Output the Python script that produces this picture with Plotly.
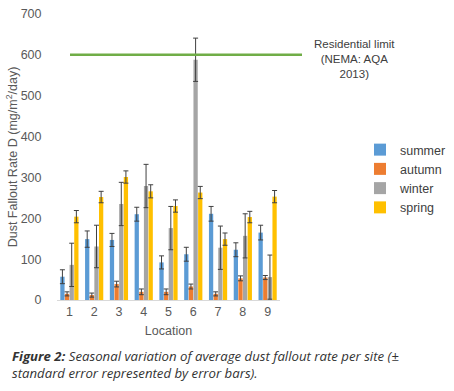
import plotly.graph_objects as go

locations = ["1", "2", "3", "4", "5", "6", "7", "8", "9"]
summer = [57, 149, 147, 210, 92, 112, 211, 123, 165]
summer_err = [17, 20, 16, 17, 16, 17, 18, 17, 18]
autumn = [15, 12, 39, 20, 20, 33, 15, 53, 55]
autumn_err = [5, 5, 7, 7, 7, 6, 5, 6, 5]
winter = [86, 131, 235, 279, 176, 588, 128, 157, 56]
winter_err = [53, 52, 53, 53, 53, 53, 53, 54, 54]
spring = [204, 252, 301, 266, 230, 263, 149, 203, 253]
spring_err = [15, 14, 15, 16, 15, 15, 15, 14, 15]
residential_limit = 600

series = [
    ("summer", summer, summer_err, "#5B9BD5"),
    ("autumn", autumn, autumn_err, "#ED7D31"),
    ("winter", winter, winter_err, "#A5A5A5"),
    ("spring", spring, spring_err, "#FFC000"),
]

W, H = 454, 391
FONT = "Liberation Sans"

fig = go.Figure()
for name, vals, errs, color in series:
    fig.add_trace(go.Bar(
        x=locations, y=vals, name=name, marker_color=color,
        marker_line_width=0,
        error_y=dict(type="data", array=errs, visible=True,
                     color="#404040", thickness=1, width=2.5),
    ))

fig.add_shape(type="line", xref="paper", yref="y",
              x0=70 / W, x1=302 / W, y0=residential_limit, y1=residential_limit,
              line=dict(color="#70AD47", width=2.5))

fig.add_annotation(xref="paper", yref="paper", x=354 / W, y=1 - 36 / H,
                   text="Residential limit<br>(NEMA: AQA<br>2013)",
                   showarrow=False, align="center", xanchor="center", yanchor="top",
                   font=dict(family=FONT, size=11.5, color="#404040"))

fig.add_annotation(xref="paper", yref="paper", x=10 / W, y=1 - 345 / H,
                   text="<b><i>Figure 2:</i></b><i> Seasonal variation of average dust fallout rate per site (±<br>standard error represented by error bars).</i>",
                   showarrow=False, align="left", xanchor="left", yanchor="top",
                   font=dict(family="Open Sans", size=13.2, color="#333333"))

fig.update_layout(
    width=W, height=H,
    margin=dict(l=0, r=0, t=0, b=0, autoexpand=False),
    paper_bgcolor="white", plot_bgcolor="white",
    barmode="group", bargap=0.25, bargroupgap=0.08,
    font=dict(family=FONT, color="#595959", size=12),
    showlegend=True,
    legend=dict(x=360 / W, y=1 - 135 / H, xanchor="left", yanchor="top",
                font=dict(family=FONT, size=12.5, color="#404040"),
                itemwidth=30, bgcolor="rgba(0,0,0,0)", tracegroupgap=0),
    xaxis=dict(domain=[57 / W, 280 / W], automargin=False,
               title=dict(text="Location", standoff=8, font=dict(size=12.5, color="#595959")),
               showline=True, linecolor="#D9D9D9", linewidth=1,
               ticks="", showgrid=False, tickfont=dict(size=12.5)),
    yaxis=dict(domain=[1 - 300 / H, 1 - 14 / H], automargin=False,
               title=dict(text="Dust Fallout Rate D (mg/m<sup>2</sup>/day)", standoff=0,
                          font=dict(size=12.5, color="#595959")),
               range=[0, 700], dtick=100, showgrid=False, zeroline=False,
               ticks="outside", ticklen=12, tickcolor="rgba(0,0,0,0)",
               tickfont=dict(size=12.5, color="#595959")),
)

fig.write_html("out.html", config={"displayModeBar": False},
               post_script="document.body.style.margin='0';document.body.style.overflow='hidden';")
